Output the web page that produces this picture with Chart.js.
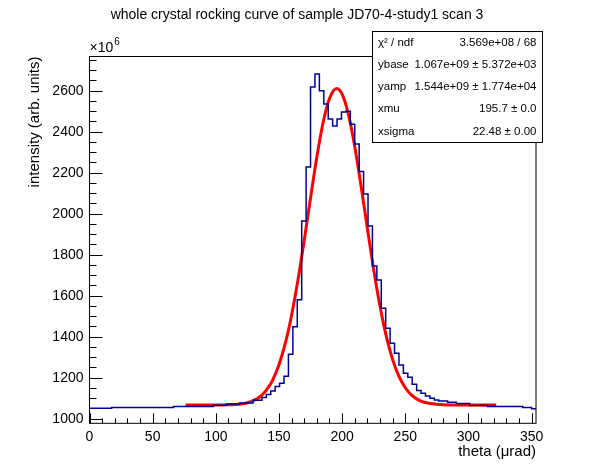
<!DOCTYPE html>
<html>
<head>
<meta charset="utf-8">
<script src="https://cdn.jsdelivr.net/npm/chart.js@4.4.1/dist/chart.umd.min.js"></script>
<style>
    html, body { margin: 0; padding: 0; background: #fff; }
    #wrap { width: 596px; height: 472px; }
</style>
</head>
<body>
<div id="wrap"><canvas id="rockingChart" width="596" height="472"></canvas></div>
<script>
// Data (intensity in units of 1e6)
// histogram steps: histValues[i] holds from histEdges[i] to histEdges[i+1]
const histEdges = [0, 17.5, 66.5, 98, 108.5, 119, 129.5, 136.5, 140, 143.5,
    147, 150.5, 154, 157.5, 161, 164.5, 168, 171.5, 175, 178.5,
    182, 185.5, 189, 192.5, 196, 199.5, 203, 206.5, 210, 213.5,
    217, 220.5, 224, 227.5, 231, 234.5, 238, 241.5, 245, 248.5,
    252, 255.5, 259, 262.5, 266, 269.5, 273, 276.5, 283.5, 290.5,
    301, 315, 343, 350, 353.5];
const histValues = [1051, 1055, 1060, 1065, 1072, 1076, 1090, 1103, 1118, 1135,
    1157, 1173, 1207, 1314, 1449, 1580, 1965, 2228, 2618, 2682,
    2600, 2535, 2462, 2428, 2462, 2496, 2500, 2437, 2340, 2206,
    2096, 1940, 1745, 1677, 1539, 1441, 1368, 1319, 1262, 1222,
    1202, 1168, 1137, 1124, 1111, 1100, 1091, 1086, 1080, 1074,
    1064, 1059, 1054, 1049];

// red fit curve, sampled by eye along the drawn line
const fitTheta = [76, 90, 100, 110, 120, 125, 130, 135, 140, 145,
    150, 155, 160, 165, 170, 175, 180, 185, 190, 195.7,
    200, 205, 210, 215, 220, 225, 230, 235, 240, 245,
    250, 255, 260, 265, 270, 280, 290, 300, 322];
const fitValues = [1067, 1067, 1067, 1068, 1072, 1078, 1089, 1107, 1139, 1188,
    1263, 1367, 1505, 1675, 1870, 2077, 2277, 2446, 2562, 2611,
    2583, 2484, 2328, 2135, 1928, 1727, 1549, 1402, 1288, 1206,
    1151, 1115, 1093, 1080, 1074, 1068, 1067, 1067, 1067];

const xTicks = [0, 50, 100, 150, 200, 250, 300, 350];
const yTicks = [1000, 1200, 1400, 1600, 1800, 2000, 2200, 2400, 2600];

const chartTitle = 'whole crystal rocking curve of sample JD70-4-study1 scan 3';
const xTitle = 'theta (\u03bcrad)';
const yTitle = 'intensity (arb. units)';

const statsRows = [
    ['\u03c7\u00b2 / ndf', '3.569e+08 / 68'],
    ['ybase', '1.067e+09 \u00b1 5.372e+03'],
    ['yamp', '1.544e+09 \u00b1 1.774e+04'],
    ['xmu', '195.7 \u00b1 0.0'],
    ['xsigma', '22.48 \u00b1 0.00']
];

const FONT = '"Liberation Sans", Arial, Helvetica, sans-serif';

// build point lists for the library
const histPoints = histValues.map((v, i) => ({ x: histEdges[i], y: v }));
histPoints.push({ x: histEdges[histEdges.length - 1], y: histValues[histValues.length - 1] });
const fitPoints = fitTheta.map((t, i) => ({ x: t, y: fitValues[i] }));

// ROOT-like frame, inward ticks, title, exponent and stats box
const rootDecor = {
    id: 'rootDecor',
    beforeDatasetsDraw(chart) {
        const { ctx, chartArea: a, scales } = chart;
        const xs = scales.x, ys = scales.y;
        ctx.save();
        ctx.strokeStyle = '#000';
        ctx.lineWidth = 1;
        ctx.strokeRect(a.left, a.top, a.right - a.left, a.bottom - a.top);

        ctx.beginPath();
        // x ticks: major every 50, minor every 10
        for (let v = 0; v <= xs.max; v += 10) {
            const px = Math.round(xs.getPixelForValue(v)) + 0.5;
            const len = xTicks.includes(v) ? 10 : 5;
            ctx.moveTo(px, a.bottom);
            ctx.lineTo(px, a.bottom - len);
        }
        // y ticks: major every 200, minor every 50
        for (let v = yTicks[0]; v <= ys.max; v += 50) {
            const py = Math.round(ys.getPixelForValue(v)) + 0.5;
            const len = yTicks.includes(v) ? 13 : 7;
            ctx.moveTo(a.left, py);
            ctx.lineTo(a.left + len, py);
        }
        ctx.stroke();
        ctx.restore();
    },
    afterDraw(chart) {
        const { ctx, chartArea: a } = chart;
        ctx.save();
        ctx.fillStyle = '#000';

        // title
        ctx.font = '14px ' + FONT;
        ctx.textAlign = 'center';
        ctx.textBaseline = 'middle';
        ctx.fillText(chartTitle, 297, 15);

        // x10^6 above the y axis
        ctx.textAlign = 'left';
        ctx.textBaseline = 'alphabetic';
        ctx.font = '14px ' + FONT;
        ctx.fillText('\u00d710', a.left, 52);
        const w = ctx.measureText('\u00d710').width;
        ctx.font = '10px ' + FONT;
        ctx.fillText('6', a.left + w + 1, 45);

        // stats box
        const bx = 372.5, by = 31.5, bw = 170, bh = 111;
        ctx.fillStyle = '#fff';
        ctx.fillRect(bx, by, bw, bh);
        ctx.strokeStyle = '#000';
        ctx.lineWidth = 1;
        ctx.strokeRect(bx, by, bw, bh);
        ctx.fillStyle = '#000';
        ctx.font = '11.5px ' + FONT;
        ctx.textBaseline = 'middle';
        const rowH = bh / statsRows.length;
        statsRows.forEach((row, i) => {
            const cy = by + rowH * (i + 0.5);
            ctx.textAlign = 'left';
            ctx.fillText(row[0], bx + 5.5, cy);
            ctx.textAlign = 'right';
            ctx.fillText(row[1], bx + bw - 6, cy);
        });
        ctx.restore();
    }
};

const ctx = document.getElementById('rockingChart').getContext('2d');
new Chart(ctx, {
    type: 'line',
    data: {
        datasets: [
            {
                label: 'data',
                data: histPoints,
                stepped: 'before',   // hold each bin value until the next edge
                borderColor: '#000099',
                borderWidth: 1.5,
                pointRadius: 0,
                fill: false
            },
            {
                label: 'fit',
                data: fitPoints,
                borderColor: '#ff0000',
                borderWidth: 3,
                pointRadius: 0,
                cubicInterpolationMode: 'monotone',
                fill: false
            }
        ]
    },
    options: {
        responsive: false,
        animation: false,
        events: [],
        layout: {
            padding: { left: 0, top: 56.5, right: 60, bottom: 0 }
        },
        plugins: {
            legend: { display: false },
            tooltip: { enabled: false },
            title: { display: false }
        },
        scales: {
            x: {
                type: 'linear',
                min: 0,
                max: 353.5,
                afterBuildTicks: s => { s.ticks = xTicks.map(v => ({ value: v })); },
                afterFit: s => { s.height = 48.7; },
                grid: { display: false, drawTicks: false, tickLength: 0 },
                border: { display: false },
                ticks: {
                    color: '#000',
                    padding: 5,
                    maxRotation: 0,
                    font: { family: FONT, size: 14 },
                    callback: v => String(v)
                },
                title: {
                    display: true,
                    text: xTitle,
                    align: 'end',
                    color: '#000',
                    font: { family: FONT, size: 15 },
                    padding: { top: 0, bottom: 11 }
                }
            },
            y: {
                type: 'linear',
                min: 977.5,
                max: 2767,
                afterBuildTicks: s => { s.ticks = yTicks.map(v => ({ value: v })); },
                afterFit: s => { s.width = 89.5; },
                grid: { display: false, drawTicks: false, tickLength: 0 },
                border: { display: false },
                ticks: {
                    color: '#000',
                    padding: 6,
                    font: { family: FONT, size: 14 },
                    callback: v => String(v)
                },
                title: {
                    display: true,
                    text: yTitle,
                    align: 'end',
                    color: '#000',
                    font: { family: FONT, size: 15 },
                    padding: { top: 26, bottom: 0 }
                }
            }
        }
    },
    plugins: [rootDecor]
});
</script>
</body>
</html>
